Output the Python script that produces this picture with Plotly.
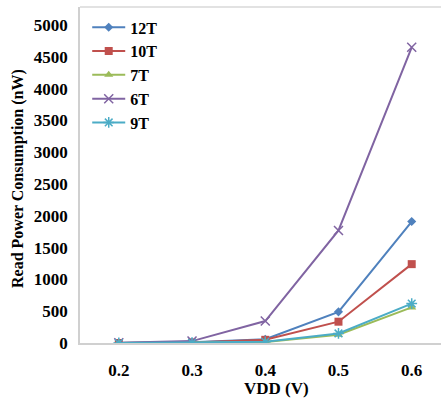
import plotly.graph_objects as go

vdd = ["0.2", "0.3", "0.4", "0.5", "0.6"]
p12T = [0, 10, 60, 490, 1910]
p10T = [0, 8, 50, 335, 1240]
p7T = [0, 3, 15, 130, 560]
p6T = [5, 30, 345, 1770, 4650]
p9T = [0, 4, 18, 150, 620]

series = [
    ("12T", p12T, "#4F81BD", "diamond", 7, None),
    ("10T", p10T, "#C0504D", "square", 8, None),
    ("7T", p7T, "#9BBB59", "triangle-up", 8, None),
    ("6T", p6T, "#8064A2", "x-thin-open", 9, 1.5),
    ("9T", p9T, "#4BACC6", "asterisk-open", 9, 1.5),
]

fig = go.Figure()
for name, vals, col, sym, sz, lw in series:
    marker = dict(symbol=sym, size=sz, color=col)
    if lw:
        marker["line"] = dict(color=col, width=lw)
    fig.add_trace(go.Scatter(x=vdd, y=vals, name=name, mode="lines+markers",
                             line=dict(color=col, width=2), marker=marker,
                             legendgroup=name))

font_family = "Liberation Serif, Times New Roman, serif"
fig.update_layout(
    width=441, height=398,
    margin=dict(l=80, r=0, t=7, b=55),
    paper_bgcolor="white", plot_bgcolor="white",
    font=dict(family=font_family, size=16, color="black"),
    showlegend=True,
    legend=dict(x=0.02, y=0.99, xanchor="left", yanchor="top",
                font=dict(family=font_family, size=16, color="black", weight="bold"),
                bgcolor="rgba(0,0,0,0)", tracegroupgap=0, itemwidth=33),
    xaxis=dict(type="category", range=[-0.53, 4.40], showgrid=False,
               showline=True, linecolor="#D0D0D0", linewidth=1.5,
               ticks="", ticklabelstandoff=11,
               tickfont=dict(family=font_family, size=17, weight="bold")),
    yaxis=dict(range=[0, 5283], dtick=500, tick0=0, showgrid=False,
               showline=True, linecolor="#D0D0D0", linewidth=1.5,
               ticks="", ticklabelstandoff=7, zeroline=False,
               tickfont=dict(family=font_family, size=17, weight="bold")),
    shapes=[dict(type="line", xref="paper", yref="paper", x0=0, x1=1, y0=1, y1=1,
                 line=dict(color="#D9D9D9", width=1.5))],
    annotations=[
        dict(text="VDD (V)", xref="paper", yref="paper", x=(276 - 80) / 361, y=-(388 - 343) / 336,
             showarrow=False, xanchor="center", yanchor="middle",
             font=dict(family=font_family, size=17, weight="bold")),
        dict(text="Read Power Consumption (nW)", xref="paper", yref="paper",
             x=-(80 - 18) / 361, y=(343 - 179) / 336, textangle=-90,
             showarrow=False, xanchor="center", yanchor="middle",
             font=dict(family=font_family, size=16, weight="bold")),
    ],
)

fig.write_html("out.html", config={"displayModeBar": False},
               post_script="document.body.style.margin='0';document.body.style.padding='0';")
